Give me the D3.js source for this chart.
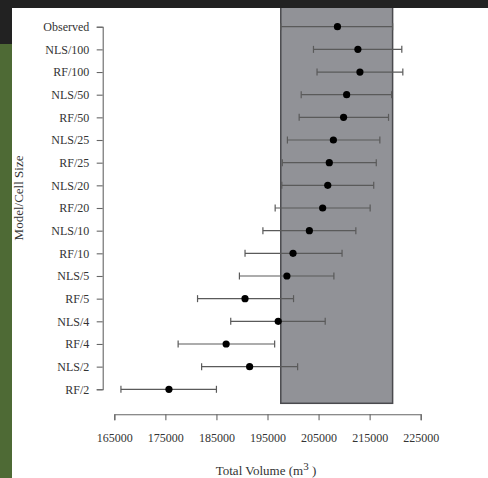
<!DOCTYPE html>
<html>
<head>
<meta charset="utf-8">
<script src="https://cdn.jsdelivr.net/npm/d3@7"></script>
<style>
  body { margin: 0; background: #fff; }
  svg { display: block; }
</style>
</head>
<body>
<div id="chart"></div>
<script>
// rows, top to bottom
const labels = ["Observed", "NLS/100", "RF/100", "NLS/50", "RF/50", "NLS/25", "RF/25",
  "NLS/20", "RF/20", "NLS/10", "RF/10", "NLS/5", "RF/5", "NLS/4", "RF/4", "NLS/2", "RF/2"];
const means = [208700, 212700, 213100, 210500, 209900, 207900, 207100, 206800, 205800,
  203200, 200000, 198800, 190600, 197100, 186900, 191500, 175700];
const lower = [197600, 204000, 204700, 201600, 201200, 198900, 197900, 197800, 196500,
  194100, 190600, 189500, 181300, 187800, 177500, 182100, 166300];
const upper = [219500, 221300, 221500, 219300, 218700, 217000, 216300, 215800, 215100,
  212300, 209600, 208000, 200100, 206300, 196400, 200900, 185000];
const observedRange = [197600, 219500];
const xTicks = [165000, 175000, 185000, 195000, 205000, 215000, 225000];

const width = 488;
const height = 478;

const svg = d3.select("#chart")
  .append("svg")
  .attr("width", width)
  .attr("height", height);

// white page
svg.append("rect")
  .attr("width", width).attr("height", height)
  .attr("fill", "#ffffff");

const x = d3.scaleLinear()
  .domain([165000, 225000])
  .range([114.3, 420.7]);

const y = d3.scalePoint()
  .domain(labels)
  .range([26.7, 389.3]);

const data = labels.map((l, i) => ({ label: l, mean: means[i], lo: lower[i], hi: upper[i] }));

// observed range box
svg.append("rect")
  .attr("x", x(observedRange[0]))
  .attr("y", 0)
  .attr("width", x(observedRange[1]) - x(observedRange[0]))
  .attr("height", y("RF/2") + 14)
  .attr("fill", "#919297")
  .attr("stroke", "#4a4a4e")
  .attr("stroke-width", 1.5);

// error bars
const bars = svg.append("g")
  .selectAll("g")
  .data(data)
  .enter()
  .append("g")
  .attr("stroke", "#5a5a5a")
  .attr("stroke-width", 1.2);

bars.append("line")
  .attr("x1", d => x(d.lo)).attr("x2", d => x(d.hi))
  .attr("y1", d => y(d.label)).attr("y2", d => y(d.label));
bars.append("line")
  .attr("x1", d => x(d.lo)).attr("x2", d => x(d.lo))
  .attr("y1", d => y(d.label) - 3.5).attr("y2", d => y(d.label) + 3.5);
bars.append("line")
  .attr("x1", d => x(d.hi)).attr("x2", d => x(d.hi))
  .attr("y1", d => y(d.label) - 3.5).attr("y2", d => y(d.label) + 3.5);

svg.append("g")
  .selectAll("circle")
  .data(data)
  .enter()
  .append("circle")
  .attr("cx", d => x(d.mean))
  .attr("cy", d => y(d.label))
  .attr("r", 3.6)
  .attr("fill", "#000");

// axes
const xAxis = svg.append("g")
  .attr("transform", "translate(0,414.3)")
  .call(d3.axisBottom(x).tickValues(xTicks).tickFormat(d3.format("d"))
    .tickSize(6).tickSizeOuter(6).tickPadding(13));

const yAxis = svg.append("g")
  .attr("transform", "translate(102.7,0)")
  .call(d3.axisLeft(y).tickSize(6).tickSizeOuter(6).tickPadding(7.4));

[xAxis, yAxis].forEach(a => {
  a.selectAll("path, line").attr("stroke", "#666").attr("stroke-width", 1.1);
  a.selectAll("text")
    .style("font-family", "'Liberation Serif', 'DejaVu Serif', serif")
    .style("font-size", "12px")
    .attr("fill", "#333");
});

// axis titles
const xt = svg.append("text")
  .attr("x", 266)
  .attr("y", 475)
  .attr("text-anchor", "middle")
  .style("font-family", "'Liberation Serif', serif")
  .style("font-size", "13px")
  .attr("fill", "#333");
xt.append("tspan").text("Total Volume (m");
xt.append("tspan").attr("dy", -5).style("font-size", "11px").text("3");
xt.append("tspan").attr("dy", 5).text(" )");

svg.append("text")
  .attr("transform", "translate(23,198) rotate(-90)")
  .attr("text-anchor", "middle")
  .style("font-family", "'Liberation Serif', serif")
  .style("font-size", "13px")
  .attr("fill", "#333")
  .text("Model/Cell Size");

// page frame around the figure
svg.append("rect")
  .attr("x", 0).attr("y", 44).attr("width", 12).attr("height", height - 44)
  .attr("fill", "#4e6a35");
svg.append("rect")
  .attr("x", 0).attr("y", 0).attr("width", 12).attr("height", 44)
  .attr("fill", "#222");
svg.append("rect")
  .attr("x", 0).attr("y", 0).attr("width", width).attr("height", 8)
  .attr("fill", "#222");
</script>
</body>
</html>
